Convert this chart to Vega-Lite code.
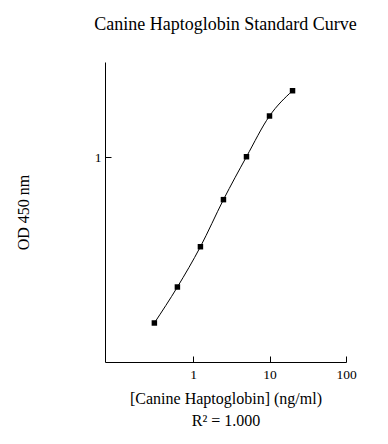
{
  "$schema": "https://vega.github.io/schema/vega-lite/v6.json",
  "autosize": "none",
  "padding": {"left": 105, "top": 62, "right": 42, "bottom": 82},
  "width": 241,
  "height": 300,
  "background": "white",
  "title": {
    "text": "Canine Haptoglobin Standard Curve",
    "font": "Liberation Serif",
    "fontSize": 18,
    "fontWeight": "normal",
    "color": "black",
    "anchor": "middle",
    "baseline": "alphabetic",
    "offset": 14
  },
  "config": {
    "view": {"stroke": null},
    "axis": {
      "grid": false,
      "domainColor": "black",
      "domainWidth": 1,
      "tickColor": "black",
      "tickWidth": 1,
      "labelFont": "Liberation Serif",
      "labelFontSize": 13.5,
      "labelColor": "black",
      "labelFlush": false,
      "labelOverlap": false,
      "titleFont": "Liberation Serif",
      "titleFontSize": 16,
      "titleFontWeight": "normal",
      "titleColor": "black"
    }
  },
  "data": {
    "values": [
      {"conc": 0.3125, "od": 0.176},
      {"conc": 0.625, "od": 0.2565},
      {"conc": 1.25, "od": 0.391},
      {"conc": 2.5, "od": 0.640},
      {"conc": 5, "od": 1.003},
      {"conc": 10, "od": 1.536},
      {"conc": 20, "od": 2.001}
    ]
  },
  "encoding": {
    "x": {
      "field": "conc",
      "type": "quantitative",
      "scale": {"type": "log", "domain": [0.0707, 100], "nice": false},
      "axis": {
        "values": [1, 10, 100],
        "format": "~g",
        "tickSize": -6,
        "labelPadding": 11,
        "title": ["[Canine Haptoglobin] (ng/ml)", "R² = 1.000"],
        "titleLineHeight": 22,
        "titlePadding": 10
      }
    },
    "y": {
      "field": "od",
      "type": "quantitative",
      "scale": {"type": "log", "domain": [0.117, 2.703], "nice": false},
      "axis": {
        "values": [1],
        "format": "~g",
        "tickSize": -6,
        "labelPadding": 10,
        "title": "OD 450 nm",
        "titlePadding": 63
      }
    }
  },
  "layer": [
    {
      "mark": {"type": "line", "interpolate": "monotone", "color": "black", "strokeWidth": 1}
    },
    {
      "mark": {"type": "square", "filled": true, "size": 30, "color": "black", "opacity": 1}
    }
  ]
}
